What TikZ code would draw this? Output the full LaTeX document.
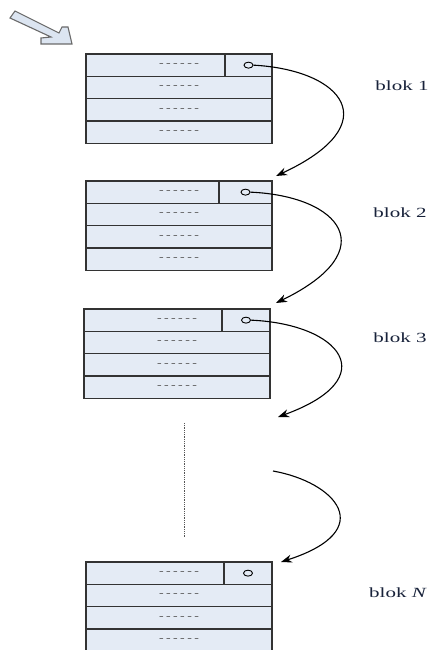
\documentclass[tikz,border=0pt]{standalone}
\usepackage{graphicx}
\usepackage{fontspec}
\setmainfont{Liberation Serif}
\usetikzlibrary{arrows.meta,shapes.geometric}
\definecolor{boxfill}{HTML}{E4EBF5}
\definecolor{boxline}{HTML}{333333}
\definecolor{labcol}{HTML}{18223A}
\definecolor{dashcol}{HTML}{555555}
\definecolor{arrfill}{HTML}{DCE5F1}
\definecolor{arrline}{HTML}{6A6A6A}
\newcommand{\dashtxt}{\scalebox{1.25}[1]{\fontsize{11}{11}\selectfont -\kern2pt-\kern2pt-\kern2pt-\kern2pt-\kern2pt-}}
\newcommand{\blk}[1]{\scalebox{1.5}[1]{\fontsize{14}{14}\selectfont blok #1}}
\tikzset{
  rowcell/.style={rectangle, draw=boxline, fill=boxfill, line width=1.3pt,
    minimum width=186pt, minimum height=22.3pt, inner sep=0pt, outer sep=0pt,
    anchor=north west, text=dashcol},
  ptrcell/.style={rectangle, draw=boxline, fill=boxfill, line width=1.3pt,
    minimum height=22.3pt, inner sep=0pt, outer sep=0pt, anchor=north east},
  ptr/.style={ellipse, draw=black, line width=0.9pt, fill=boxfill,
    minimum width=9pt, minimum height=6pt, inner sep=0pt},
  link/.style={draw=black, line width=1.1pt, -{Stealth[length=11pt,width=8pt]}},
  lab/.style={text=labcol, inner sep=0pt},
  dotline/.style={draw=dashcol, line width=1pt, dash pattern=on 0.8pt off 1pt},
  bigarrow/.style={draw=arrline, fill=arrfill, line width=1.1pt, line join=miter},
  pics/memblock/.style={code={
    \node[rowcell] (-r1) at (0,0) {\dashtxt};
    \node[rowcell] (-r2) at (0,22.3) {\dashtxt};
    \node[rowcell] (-r3) at (0,44.6) {\dashtxt};
    \node[rowcell] (-r4) at (0,66.9) {\dashtxt};
    \node[ptrcell, minimum width=#1pt] (-p) at (186,0) {};
    \node[ptr] (-c) at ([xshift=-#1pt/2]186,11.15) {};
  }}
}
\begin{document}
\begin{tikzpicture}[x=1pt,y=-1pt]
\useasboundingbox (0,0) rectangle (439,650);
% entry arrow
\draw[bigarrow] (15,11) -- (59,33) -- (62,27) -- (68,27) -- (72,44) -- (41,44) -- (41,38) -- (51,37) -- (10,18) -- cycle;
% blocks
\pic (b1) at (86,54) {memblock=47};
\pic (b2) at (86,181) {memblock=53};
\pic (b3) at (84,309) {memblock=48};
\pic (bN) at (86,562) {memblock=48};
% labels
\node[lab] (l1) at (402,86) {\blk{1}};
\node[lab] (l2) at (400,213) {\blk{2}};
\node[lab] (l3) at (400,338) {\blk{3}};
\node[lab] (lN) at (398,593) {\blk{\textit{N}}};
% arrow ends
\coordinate (t1) at (276,176);
\coordinate (t2) at (276,303);
\coordinate (t3) at (278,417);
\coordinate (s4) at (273,471);
\coordinate (t4) at (281,562);
\draw[link] (b1-c.east) .. controls (343,70) and (388,124) .. (t1);
\draw[link] (b2-c.east) .. controls (340,196) and (385,250) .. (t2);
\draw[link] (b3-c.east) .. controls (340,324) and (385,378) .. (t3);
\draw[link] (s4) .. controls (335,482) and (380,530) .. (t4);
% ellipsis
\coordinate (d1) at (184,423);
\coordinate (d2) at (184,537);
\draw[dotline] (d1) -- (d2);
\end{tikzpicture}
\end{document}
